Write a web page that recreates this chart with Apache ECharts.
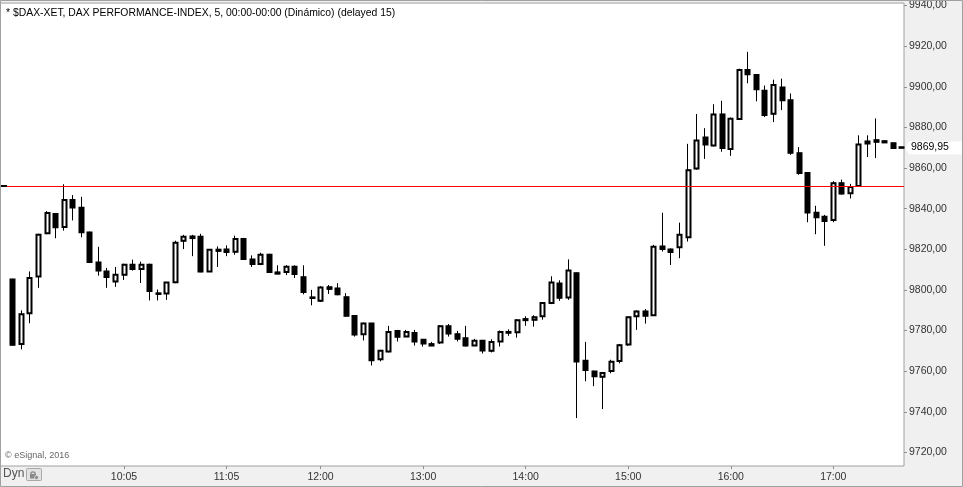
<!DOCTYPE html>
<html>
<head>
<meta charset="utf-8">
<title>DAX 5 min</title>
<script src="https://cdn.jsdelivr.net/npm/echarts@6/dist/echarts.min.js"></script>
<style>
	html, body {margin: 0; padding: 0; background: #f0f0f0;}
	#chart {width: 963px; height: 487px;}
</style>
</head>
<body>
<div id="chart"></div>
<script>
// 5 minute bars from 09:00, one entry per bar
var opens = [
	9805.1, 9773.3, 9788.5, 9806.6, 9827.9, 9837.4, 9831.0, 9844.2, 9840.4, 9828.2,
	9813.5, 9809.0, 9804.1, 9807.5, 9812.4, 9810.3, 9812.4, 9798.3, 9798.2, 9803.8,
	9824.2, 9826.3, 9826.1, 9809.1, 9819.8, 9819.9, 9818.8, 9825.1, 9814.9, 9812.7,
	9817.3, 9808.6, 9808.8, 9811.4, 9806.2, 9796.3, 9794.6, 9801.3, 9800.7, 9796.4,
	9787.1, 9778.2, 9783.4, 9765.8, 9769.7, 9779.8, 9777.0, 9778.8, 9775.4, 9773.3,
	9774.1, 9782.1, 9778.2, 9776.2, 9772.6, 9774.9, 9770.0, 9774.6, 9779.3, 9779.2,
	9785.6, 9785.3, 9787.0, 9793.5, 9803.1, 9796.3, 9808.2, 9765.1, 9759.8, 9757.2,
	9760.1, 9765.0, 9773.1, 9787.0, 9789.4, 9787.5, 9821.4, 9819.9, 9821.0, 9825.9,
	9859.7, 9875.0, 9871.1, 9886.4, 9869.4, 9884.1, 9908.3, 9905.8, 9898.0, 9886.7,
	9899.6, 9893.3, 9867.3, 9857.6, 9838.0, 9836.0, 9834.4, 9852.5, 9847.6, 9851.1,
	9872.1, 9873.7, 9873.2, 9872.2, 9870.2
];
var closes = [
	9773.0, 9788.0, 9805.9, 9827.1, 9837.8, 9830.8, 9844.2, 9840.6, 9828.4, 9813.7,
	9809.5, 9806.4, 9807.5, 9812.4, 9810.3, 9812.4, 9799.5, 9798.0, 9803.6, 9823.2,
	9826.1, 9825.5, 9809.0, 9819.8, 9819.2, 9818.6, 9825.1, 9815.2, 9812.7, 9817.3,
	9808.8, 9808.0, 9811.4, 9807.8, 9799.0, 9796.0, 9801.2, 9800.5, 9797.8, 9787.3,
	9778.0, 9783.4, 9765.3, 9770.0, 9779.3, 9776.9, 9779.3, 9774.6, 9773.6, 9772.6,
	9782.1, 9778.5, 9776.0, 9772.6, 9774.9, 9770.2, 9774.4, 9779.3, 9778.9, 9785.0,
	9785.1, 9786.5, 9793.5, 9803.6, 9796.1, 9809.5, 9764.8, 9760.6, 9757.5, 9759.1,
	9764.6, 9772.8, 9786.5, 9789.4, 9787.3, 9821.2, 9820.1, 9818.6, 9827.1, 9858.9,
	9873.5, 9871.6, 9886.4, 9869.9, 9884.3, 9908.3, 9906.1, 9898.8, 9886.1, 9900.9,
	9893.4, 9867.5, 9857.6, 9838.1, 9835.7, 9833.9, 9852.5, 9847.4, 9850.6, 9871.6,
	9873.1, 9872.9, 9872.6, 9869.9, 9869.95
];
var lows = [
	9772.5, 9770.7, 9783.6, 9801.0, 9827.4, 9825.4, 9829.2, 9834.2, 9825.9, 9813.2,
	9807.0, 9801.0, 9801.5, 9804.9, 9809.5, 9803.4, 9794.8, 9794.8, 9795.1, 9803.3,
	9820.1, 9816.6, 9808.7, 9808.8, 9811.3, 9816.6, 9817.3, 9814.7, 9811.3, 9812.2,
	9808.3, 9807.8, 9807.3, 9805.9, 9797.8, 9792.4, 9794.1, 9798.0, 9797.3, 9786.8,
	9777.0, 9775.1, 9762.8, 9764.8, 9769.2, 9774.6, 9776.8, 9772.6, 9772.1, 9772.4,
	9773.4, 9777.0, 9774.6, 9772.1, 9772.4, 9768.7, 9769.2, 9772.1, 9777.4, 9776.5,
	9782.3, 9781.9, 9785.3, 9793.0, 9794.6, 9795.1, 9736.9, 9755.0, 9752.6, 9741.3,
	9758.9, 9763.8, 9772.5, 9780.3, 9783.4, 9787.3, 9818.9, 9812.2, 9815.6, 9823.8,
	9859.2, 9864.5, 9870.6, 9868.0, 9866.0, 9883.6, 9901.7, 9892.8, 9885.1, 9882.6,
	9888.5, 9866.5, 9856.7, 9833.3, 9827.4, 9821.7, 9833.3, 9846.9, 9845.0, 9851.0,
	9865.4, 9864.9, 9872.5, 9869.8, 9869.8
];
var highs = [
	9805.5, 9789.9, 9809.1, 9827.7, 9838.8, 9837.6, 9852.0, 9846.7, 9845.8, 9828.7,
	9821.2, 9810.8, 9811.3, 9812.9, 9814.9, 9813.9, 9812.9, 9800.2, 9803.8, 9824.2,
	9827.1, 9827.1, 9827.6, 9820.1, 9821.4, 9821.9, 9826.7, 9825.6, 9817.0, 9818.3,
	9817.8, 9812.1, 9812.2, 9812.1, 9812.1, 9800.0, 9801.8, 9802.4, 9803.3, 9798.4,
	9787.6, 9783.9, 9783.6, 9770.5, 9782.3, 9780.3, 9780.3, 9780.3, 9775.6, 9774.4,
	9782.7, 9783.2, 9779.8, 9782.3, 9775.9, 9775.3, 9775.7, 9780.0, 9780.6, 9785.5,
	9787.0, 9787.5, 9794.0, 9806.7, 9804.7, 9815.0, 9808.5, 9774.4, 9760.2, 9759.3,
	9765.6, 9773.4, 9786.8, 9789.9, 9790.6, 9822.2, 9838.0, 9820.4, 9833.1, 9871.9,
	9886.6, 9879.6, 9891.4, 9893.1, 9884.9, 9908.9, 9917.2, 9906.0, 9900.6, 9903.5,
	9904.0, 9896.7, 9870.3, 9857.8, 9841.4, 9836.9, 9853.5, 9854.3, 9852.2, 9876.1,
	9876.1, 9884.4, 9873.3, 9872.4, 9870.3
];
var timeLabels = ['10:05', '11:05', '12:00', '13:00', '14:00', '15:00', '16:00', '17:00'];
var priceTicks = [9720, 9740, 9760, 9780, 9800, 9820, 9840, 9860, 9880, 9900, 9920, 9940];
var prevClose = 9851.05;
var lastPrice = 9869.95;

var FONT = '"Liberation Sans", Arial, sans-serif';

function toMin(t) {
	var p = t.split(':');
	return (parseInt(p[0], 10) - 9) * 60 + parseInt(p[1], 10);
}
function fmtTime(m) {
	var h = 9 + Math.floor(m / 60), mm = m % 60;
	return h + ':' + (mm < 10 ? '0' : '') + mm;
}

// full bars (thin wicks) and bodies only (thick outline) drawn on top
var candles = opens.map(function (o, i) {
	return [i * 5, o, closes[i], lows[i], highs[i]];
});
var bodies = opens.map(function (o, i) {
	return [i * 5, o, closes[i], Math.min(o, closes[i]), Math.max(o, closes[i])];
});
var tickMins = timeLabels.map(toMin);

var candleStyle = function (w) {
	return {
		color: '#fff', color0: '#000',
		borderColor: '#000', borderColor0: '#000',
		borderColorDoji: '#000',
		borderWidth: w
	};
};

var chart = echarts.init(document.getElementById('chart'));
var option = {
	animation: false,
	backgroundColor: '#f0f0f0',
	grid: {
		left: 0, top: 0, right: 59, bottom: 21,
		show: true, backgroundColor: '#fff',
		borderColor: '#a0a0a0', borderWidth: 1
	},
	xAxis: {
		type: 'value',
		min: -7.55, max: 521.35,
		axisLine: {show: false, onZero: false},
		splitLine: {show: false},
		axisTick: {show: true, customValues: tickMins, length: 3, lineStyle: {color: '#909090'}},
		axisLabel: {
			customValues: tickMins, margin: 6,
			color: '#333', fontSize: 10.5, fontFamily: FONT,
			formatter: function (v) { return fmtTime(v); }
		}
	},
	yAxis: {
		type: 'value',
		position: 'right',
		min: 9713.3, max: 9941.2,
		axisLine: {show: false, onZero: false},
		splitLine: {show: false},
		axisTick: {show: true, customValues: priceTicks, length: 3, lineStyle: {color: '#909090'}},
		axisLabel: {
			customValues: priceTicks, margin: 5,
			color: '#333', fontSize: 10.5, fontFamily: FONT,
			formatter: function (v) { return v.toFixed(2).replace('.', ','); }
		}
	},
	series: [{
		type: 'candlestick',
		data: candles,
		barWidth: 4.5,
		itemStyle: candleStyle(1),
		markLine: {
			silent: true,
			symbol: 'none',
			label: {show: false},
			lineStyle: {color: '#ff0000', width: 1, type: 'solid'},
			data: [{yAxis: prevClose}]
		}
	}, {
		type: 'candlestick',
		data: bodies,
		barWidth: 4.5,
		itemStyle: candleStyle(2)
	}]
};
chart.setOption(option);

// overlays: captions, price tag, footer
var yLast = chart.convertToPixel({yAxisIndex: 0}, lastPrice);
var yPrev = chart.convertToPixel({yAxisIndex: 0}, prevClose);
chart.setOption({
	graphic: [
		{type: 'text', left: 6, top: 8, z: 100, style: {
			text: '* $DAX-XET, DAX PERFORMANCE-INDEX, 5, 00:00-00:00 (Dinámico) (delayed 15)',
			fill: '#000', font: '10.4px ' + FONT}},
		{type: 'text', left: 5, top: 451, z: 100, style: {
			text: '© eSignal, 2016', fill: '#666', font: '9px ' + FONT}},
		{type: 'text', left: 3, top: 468, z: 100, style: {
			text: 'Dyn', fill: '#555', font: '12px ' + FONT}},
		{type: 'rect', z: 100, shape: {x: 26.5, y: 468.5, width: 15, height: 12, r: 1},
			style: {fill: '#e2e2e2', stroke: '#a8a8a8', lineWidth: 1}},
		{type: 'arc', z: 101, shape: {cx: 33, cy: 474, r: 2.2, startAngle: Math.PI, endAngle: 2 * Math.PI},
			style: {stroke: '#8a8a8a', lineWidth: 1.2, fill: null}},
		{type: 'rect', z: 101, shape: {x: 30, y: 474, width: 6, height: 4.5},
			style: {fill: '#8a8a8a'}},
		{type: 'circle', z: 102, shape: {cx: 36.5, cy: 477.5, r: 2},
			style: {fill: '#8a8a8a', stroke: '#e2e2e2', lineWidth: 0.8}},
		{type: 'rect', z: 100, shape: {x: 1, y: Math.round(yPrev) - 1, width: 6, height: 2},
			style: {fill: '#000'}},
		{type: 'polygon', z: 100, shape: {points: [
			[905, yLast], [909, yLast - 6.5], [963, yLast - 6.5], [963, yLast + 6.5], [909, yLast + 6.5]]},
			style: {fill: '#fff'}},
		{type: 'text', left: 911, top: yLast - 6, z: 101, style: {
			text: lastPrice.toFixed(2).replace('.', ','), fill: '#000', font: '10.5px ' + FONT}},
		{type: 'rect', z: 110, shape: {x: 0.5, y: 0.5, width: 962, height: 486},
			style: {fill: null, stroke: '#a0a0a0', lineWidth: 1}}
	]
});
</script>
</body>
</html>
